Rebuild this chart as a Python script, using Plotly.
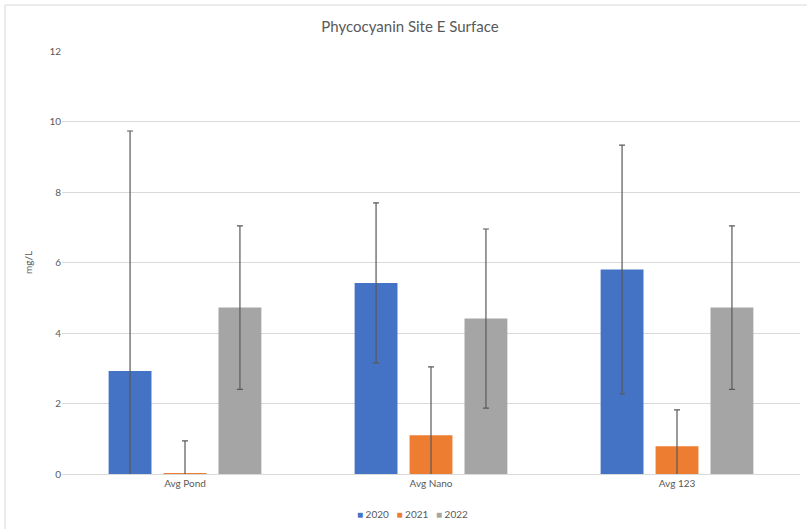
import plotly.graph_objects as go

categories = ["Avg Pond", "Avg Nano", "Avg 123"]
years = ["2020", "2021", "2022"]
values_2020 = [2.92, 5.42, 5.80]
values_2021 = [0.01, 1.10, 0.79]
values_2022 = [4.72, 4.41, 4.72]
err_2020 = [6.81, 2.27, 3.53]
err_2021 = [0.93, 1.94, 1.03]
err_2022 = [2.32, 2.54, 2.32]
colors = ["#4472C4", "#ED7D31", "#A5A5A5"]
y_ticks = [0, 2, 4, 6, 8, 10, 12]

fig = go.Figure()
for name, vals, errs, col in zip(years, [values_2020, values_2021, values_2022],
                                 [err_2020, err_2021, err_2022], colors):
    fig.add_trace(go.Bar(
        x=categories, y=vals, name=name,
        marker=dict(color=col, line=dict(width=0)),
        error_y=dict(type="data", array=errs, visible=True,
                     color="#595959", thickness=1.2, width=3),
    ))

W, H = 807, 529
ml, mr, mt, mb = 62, 7, 51, 55
pw, ph = W - ml - mr, H - mt - mb

def px_to_paper_x(px):
    return (px - ml) / pw

def px_to_paper_y(py):
    return (H - mb - py) / ph

legend_text = "&nbsp;&nbsp;&nbsp;".join(
    f"<span style='color:{c}'>■</span> {y}" for y, c in zip(years, colors)
)

fig.update_layout(
    width=W, height=H,
    margin=dict(l=ml, r=mr, t=mt, b=mb, autoexpand=False),
    paper_bgcolor="white", plot_bgcolor="white",
    barmode="group", bargap=0.33, bargroupgap=0.22,
    showlegend=False,
    font=dict(family="Lato, Calibri, sans-serif", color="#595959", size=10),
    title=dict(text="Phycocyanin Site E Surface", x=(410 / W), xanchor="center",
               y=1 - 27 / H, yanchor="middle",
               font=dict(size=15, color="#595959")),
    xaxis=dict(showgrid=False, showline=True, linecolor="#D9D9D9", linewidth=1,
               ticks="", automargin=False, tickfont=dict(size=10, color="#595959")),
    yaxis=dict(range=[0, 12], tickvals=y_ticks, showgrid=True, gridcolor="#D9D9D9",
               gridwidth=1, zeroline=False, showline=False, ticks="", automargin=False,
               tickfont=dict(size=10, color="#595959"),
               title=dict(text="mg/L", font=dict(size=10, color="#595959"), standoff=14)),
    annotations=[dict(text=legend_text, xref="paper", yref="paper",
                      x=px_to_paper_x(412), y=px_to_paper_y(514),
                      xanchor="center", yanchor="middle", showarrow=False,
                      font=dict(size=10, color="#595959"))],
    shapes=[dict(type="rect", xref="paper", yref="paper",
                 x0=px_to_paper_x(5), x1=px_to_paper_x(830),
                 y0=px_to_paper_y(560), y1=px_to_paper_y(5),
                 line=dict(color="#D9D9D9", width=1), fillcolor="rgba(0,0,0,0)",
                 layer="below")],
)

fig.write_html("out.html", config={"displayModeBar": False},
               post_script="document.body.style.margin='0px';")
